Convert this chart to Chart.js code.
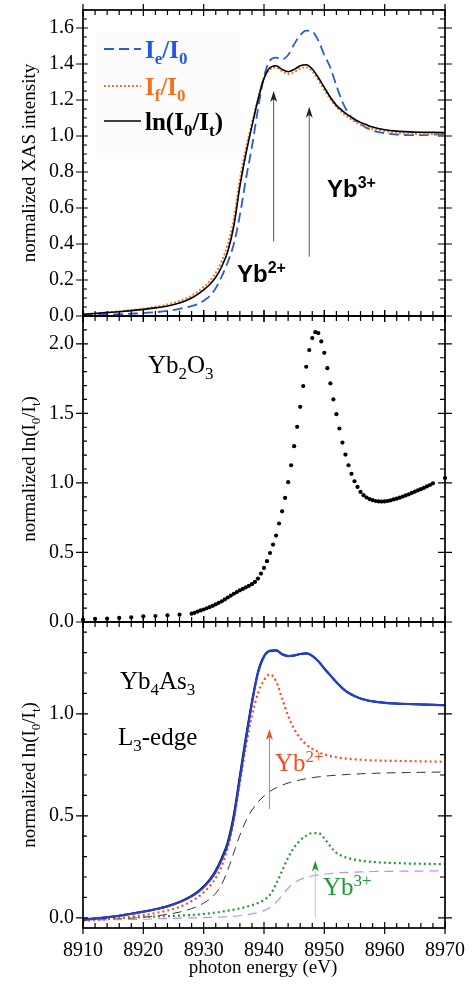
<!DOCTYPE html>
<html>
<head>
<meta charset="utf-8">
<script src="https://cdn.jsdelivr.net/npm/chart.js@4.4.1/dist/chart.umd.min.js"></script>
<style>
  body { margin: 0; background: #fff; }
  #wrap { position: relative; width: 473px; height: 990px; }
  canvas { position: absolute; left: 0; top: 0; }
</style>
</head>
<body>
<div id="wrap">
  <canvas id="c1" width="473" height="990"></canvas>
  <canvas id="c2" width="473" height="990"></canvas>
  <canvas id="c3" width="473" height="990"></canvas>
</div>
<script>
// ---- data ----
const X_TICKS = [8910, 8920, 8930, 8940, 8950, 8960, 8970];
const P1_YTICKS = [0, 0.2, 0.4, 0.6, 0.8, 1.0, 1.2, 1.4, 1.6];
const P2_YTICKS = [0, 0.5, 1.0, 1.5, 2.0];
const P3_YTICKS = [0, 0.5, 1.0];

// top panel: Yb4As3 XAS, three detection modes
const E1 = [8910, 8912, 8914, 8916, 8918, 8920, 8922, 8924, 8926, 8928, 8929, 8930, 8931, 8932, 8933, 8934,
  8935, 8936, 8937, 8938, 8939, 8940, 8941, 8942, 8943, 8944, 8945, 8946, 8947, 8948, 8949, 8950, 8951,
  8952, 8953, 8954, 8955, 8956, 8957, 8958, 8960, 8962, 8964, 8966, 8968, 8970];
const IE_I0 = [0.005, 0.006, 0.008, 0.010, 0.013, 0.016, 0.021, 0.028, 0.040, 0.055, 0.066, 0.085, 0.110, 0.155, 0.220, 0.300,
  0.400, 0.560, 0.760, 0.940, 1.150, 1.330, 1.420, 1.435, 1.425, 1.450, 1.510, 1.560, 1.585, 1.580, 1.530, 1.450, 1.380,
  1.280, 1.190, 1.125, 1.090, 1.065, 1.045, 1.030, 1.015, 1.008, 1.005, 1.005, 1.007, 1.010];
const IF_I0 = [0.010, 0.015, 0.020, 0.026, 0.033, 0.041, 0.051, 0.064, 0.083, 0.113, 0.135, 0.162, 0.195, 0.240, 0.305, 0.400,
  0.540, 0.760, 0.930, 1.070, 1.210, 1.320, 1.370, 1.380, 1.360, 1.345, 1.355, 1.375, 1.382, 1.358, 1.312, 1.255, 1.205,
  1.162, 1.128, 1.103, 1.080, 1.062, 1.050, 1.040, 1.027, 1.018, 1.013, 1.011, 1.010, 1.010];
const LN_I0_IT = [0.010, 0.014, 0.019, 0.024, 0.030, 0.037, 0.045, 0.056, 0.072, 0.100, 0.120, 0.145, 0.175, 0.215, 0.275, 0.360,
  0.500, 0.720, 0.900, 1.055, 1.200, 1.320, 1.380, 1.390, 1.370, 1.357, 1.370, 1.390, 1.396, 1.372, 1.325, 1.270, 1.215,
  1.170, 1.140, 1.115, 1.093, 1.075, 1.062, 1.050, 1.035, 1.027, 1.023, 1.021, 1.020, 1.019];

// middle panel: Yb2O3 reference
const E_YB2O3 = [8910, 8912, 8914, 8916, 8918, 8920, 8922, 8924, 8926, 8928,
  8928.5, 8929, 8929.5, 8930, 8930.5, 8931, 8931.5, 8932, 8932.5, 8933, 8933.5, 8934, 8934.5, 8935, 8935.5,
  8936, 8936.5, 8937, 8937.5, 8938, 8938.5,
  8939, 8939.5, 8940, 8940.5, 8941, 8941.5, 8942, 8942.5, 8943, 8943.5, 8944, 8944.5, 8945, 8945.5, 8946, 8946.5,
  8947, 8947.5, 8948, 8948.5, 8949, 8949.5, 8950, 8950.5, 8951, 8951.5, 8952, 8952.5, 8953, 8953.5, 8954, 8954.5,
  8955, 8955.5, 8956,
  8956.5, 8957, 8957.5, 8958, 8958.5, 8959, 8959.5, 8960, 8960.5, 8961, 8961.5, 8962, 8962.5, 8963, 8963.5, 8964,
  8964.5, 8965, 8965.5, 8966, 8966.5, 8967, 8967.5, 8968, 8970];
const I_YB2O3 = [0.017, 0.022, 0.024, 0.029, 0.034, 0.041, 0.043, 0.048, 0.053, 0.060,
  0.066, 0.075, 0.083, 0.090, 0.099, 0.107, 0.116, 0.127, 0.138, 0.149, 0.162, 0.176, 0.190, 0.203, 0.215,
  0.228, 0.238, 0.249, 0.260, 0.272, 0.288,
  0.312, 0.348, 0.389, 0.437, 0.496, 0.557, 0.621, 0.708, 0.796, 0.892, 1.005, 1.127, 1.264, 1.403, 1.547, 1.696,
  1.835, 1.955, 2.041, 2.084, 2.077, 2.017, 1.935, 1.825, 1.715, 1.600, 1.494, 1.391, 1.290, 1.204, 1.127, 1.065,
  1.012, 0.971, 0.935,
  0.912, 0.895, 0.884, 0.876, 0.870, 0.867, 0.866, 0.867, 0.870, 0.875, 0.881, 0.887, 0.894, 0.902, 0.910, 0.918,
  0.928, 0.937, 0.946, 0.955, 0.964, 0.975, 0.985, 0.997, 1.035];

// bottom panel: Yb4As3 L3-edge and its decomposition
const E3 = [8910, 8912, 8914, 8916, 8918, 8920, 8922, 8924, 8926, 8928, 8929, 8930, 8931, 8932, 8933, 8934,
  8935, 8936, 8937, 8938, 8939, 8940, 8941, 8942, 8943, 8944, 8945, 8946, 8947, 8948, 8949, 8950, 8951,
  8952, 8953, 8954, 8955, 8956, 8957, 8958, 8960, 8962, 8964, 8966, 8968, 8970];
const YB4AS3_DATA = [-0.008, -0.004, 0.003, 0.010, 0.020, 0.030, 0.042, 0.056, 0.076, 0.105, 0.125, 0.150, 0.182, 0.225, 0.285, 0.360,
  0.490, 0.680, 0.870, 1.050, 1.200, 1.280, 1.310, 1.312, 1.293, 1.283, 1.286, 1.293, 1.297, 1.284, 1.258, 1.222, 1.188,
  1.155, 1.125, 1.103, 1.087, 1.075, 1.067, 1.061, 1.054, 1.050, 1.048, 1.046, 1.044, 1.042];
const YB4AS3_FIT = [-0.008, -0.004, 0.003, 0.010, 0.020, 0.030, 0.042, 0.057, 0.078, 0.108, 0.128, 0.154, 0.187, 0.232, 0.293, 0.372,
  0.505, 0.695, 0.885, 1.060, 1.205, 1.282, 1.308, 1.310, 1.292, 1.283, 1.286, 1.293, 1.296, 1.284, 1.258, 1.222, 1.188,
  1.155, 1.125, 1.103, 1.087, 1.075, 1.067, 1.061, 1.054, 1.050, 1.048, 1.046, 1.044, 1.042];
const YB2_PEAK = [-0.015, -0.011, -0.007, -0.002, 0.005, 0.013, 0.023, 0.036, 0.053, 0.082, 0.100, 0.125, 0.155, 0.195, 0.255, 0.345,
  0.480, 0.660, 0.840, 0.990, 1.100, 1.165, 1.193, 1.160, 1.075, 0.990, 0.925, 0.880, 0.850, 0.828, 0.813, 0.801, 0.793,
  0.787, 0.783, 0.779, 0.777, 0.775, 0.773, 0.772, 0.770, 0.769, 0.768, 0.767, 0.766, 0.765];
const YB2_EDGE = [-0.010, -0.009, -0.007, -0.005, -0.002, 0.003, 0.009, 0.017, 0.028, 0.045, 0.057, 0.072, 0.092, 0.120, 0.165, 0.235,
  0.320, 0.405, 0.475, 0.528, 0.567, 0.597, 0.620, 0.637, 0.650, 0.661, 0.669, 0.676, 0.682, 0.687, 0.691, 0.694, 0.697,
  0.699, 0.701, 0.703, 0.704, 0.706, 0.707, 0.708, 0.710, 0.711, 0.712, 0.713, 0.714, 0.715];
const YB3_PEAK = [-0.006, -0.004, -0.002, 0.000, 0.002, 0.004, 0.006, 0.008, 0.011, 0.014, 0.016, 0.019, 0.022, 0.026, 0.030, 0.035,
  0.040, 0.046, 0.053, 0.062, 0.073, 0.088, 0.112, 0.165, 0.230, 0.295, 0.345, 0.380, 0.403, 0.415, 0.415, 0.390, 0.350,
  0.318, 0.302, 0.292, 0.285, 0.280, 0.277, 0.274, 0.270, 0.268, 0.266, 0.265, 0.264, 0.263];
const YB3_EDGE = [-0.012, -0.011, -0.010, -0.009, -0.008, -0.007, -0.005, -0.004, -0.002, 0.000, 0.000, 0.001, 0.002, 0.003, 0.004, 0.005,
  0.007, 0.010, 0.014, 0.019, 0.026, 0.035, 0.050, 0.075, 0.110, 0.145, 0.172, 0.188, 0.198, 0.205, 0.210, 0.214, 0.217,
  0.220, 0.222, 0.223, 0.224, 0.225, 0.226, 0.227, 0.228, 0.228, 0.229, 0.229, 0.230, 0.230];

// valence arrows: energy, from, to
const P1_ARROW_E = [8941.6, 8947.5];
const P1_ARROW_FROM = [0.414, 0.33];
const P1_ARROW_TO = [1.25, 1.163];
const P3_ARROW_E = [8940.9, 8948.5];
const P3_ARROW_FROM = [0.533, 0.0];
const P3_ARROW_TO = [0.925, 0.281];

// ---- helpers ----
const SERIF = "'Liberation Serif', 'Times New Roman', serif";
const SANS = "'Liberation Sans', Arial, sans-serif";

const pts = (xs, ys) => xs.map((x, i) => ({ x: x, y: ys[i] }));

function steps(a, b, s) {
  const out = [];
  for (let v = a; v <= b + 1e-9; v += s) out.push(Math.round(v * 1000) / 1000);
  return out;
}

// parts: [text, kind] with kind 0 normal, 1 subscript, 2 superscript
function rich(ctx, parts, x, y, size, family, weight, color, align) {
  const fontOf = k => `${weight} ${k ? Math.round(size * 0.68) : size}px ${family}`;
  const widths = parts.map(([t, k]) => { ctx.font = fontOf(k); return ctx.measureText(t).width; });
  let cx = x;
  if (align === 'center') cx -= widths.reduce((s, w) => s + w, 0) / 2;
  ctx.fillStyle = color;
  ctx.textBaseline = 'alphabetic';
  ctx.textAlign = 'left';
  parts.forEach(([t, k], i) => {
    ctx.font = fontOf(k);
    const dy = k === 1 ? size * 0.24 : k === 2 ? -size * 0.38 : 0;
    ctx.fillText(t, cx, y + dy);
    cx += widths[i];
  });
}

function vtitle(ctx, parts, x, yc) {
  ctx.save();
  ctx.translate(x, yc);
  ctx.rotate(-Math.PI / 2);
  rich(ctx, parts, 0, 0, 19, SERIF, 'normal', '#000', 'center');
  ctx.restore();
}

function arrow(ctx, x, y0, y1, lineColor, headColor) {
  ctx.save();
  ctx.strokeStyle = lineColor;
  ctx.lineWidth = 1;
  ctx.beginPath();
  ctx.moveTo(x, y0);
  ctx.lineTo(x, y1 + 6);
  ctx.stroke();
  ctx.fillStyle = headColor;
  ctx.beginPath();
  ctx.moveTo(x, y1);
  ctx.lineTo(x - 3.5, y1 + 11);
  ctx.lineTo(x, y1 + 8);
  ctx.lineTo(x + 3.5, y1 + 11);
  ctx.closePath();
  ctx.fill();
  ctx.restore();
}

function frame(yMajor, yMinor) {
  return {
    id: 'frame',
    afterDatasetsDraw(chart) {
      const { ctx, chartArea: a, scales: { x, y } } = chart;
      ctx.save();
      ctx.strokeStyle = '#000';
      ctx.lineWidth = 1.2;
      ctx.beginPath();
      steps(8910, 8970, 2).forEach(v => {
        const px = x.getPixelForValue(v);
        ctx.moveTo(px, a.top); ctx.lineTo(px, a.top + 5);
        ctx.moveTo(px, a.bottom); ctx.lineTo(px, a.bottom - 5);
      });
      X_TICKS.forEach(v => {
        const px = x.getPixelForValue(v);
        ctx.moveTo(px, a.top - 6); ctx.lineTo(px, a.top + 6);
        ctx.moveTo(px, a.bottom - 6); ctx.lineTo(px, a.bottom + 6);
      });
      yMinor.forEach(v => {
        const py = y.getPixelForValue(v);
        ctx.moveTo(a.left, py); ctx.lineTo(a.left + 4, py);
        ctx.moveTo(a.right, py); ctx.lineTo(a.right - 5, py);
      });
      yMajor.forEach(v => {
        const py = y.getPixelForValue(v);
        ctx.moveTo(a.left - 7, py); ctx.lineTo(a.left + 5, py);
        ctx.moveTo(a.right - 7, py); ctx.lineTo(a.right + 7, py);
      });
      ctx.stroke();
      ctx.lineWidth = 1.7;
      ctx.strokeRect(a.left, a.top, a.right - a.left, a.bottom - a.top);
      ctx.restore();
    }
  };
}

function yScale(min, max, ticks) {
  return {
    type: 'linear', min: min, max: max,
    afterBuildTicks: s => { s.ticks = ticks.map(v => ({ value: v })); },
    afterFit: s => { s.width = 60; s.paddingTop = 0; s.paddingBottom = 0; },
    grid: { display: false, drawTicks: false },
    border: { display: false },
    ticks: { padding: 9, color: '#000', font: { family: SERIF, size: 20 }, callback: v => v.toFixed(1), autoSkip: false }
  };
}

function xScale(show) {
  return {
    type: 'linear', min: 8910, max: 8970, display: show,
    afterBuildTicks: s => { s.ticks = X_TICKS.map(v => ({ value: v })); },
    afterFit: s => { if (show) { s.height = 50; s.paddingLeft = 0; s.paddingRight = 0; } },
    grid: { display: false, drawTicks: false },
    border: { display: false },
    ticks: { padding: 11, color: '#000', font: { family: SERIF, size: 20 }, callback: v => String(v), autoSkip: false, maxRotation: 0 }
  };
}

function baseOptions(pad, yMin, yMax, yTicks, showX) {
  return {
    responsive: false,
    animation: false,
    devicePixelRatio: 1,
    events: [],
    layout: { padding: pad },
    elements: { point: { radius: 0 }, line: { cubicInterpolationMode: 'monotone' } },
    plugins: { legend: { display: false }, tooltip: { enabled: false } },
    scales: { x: xScale(showX), y: yScale(yMin, yMax, yTicks) }
  };
}

// ---- top panel ---- (first dataset is drawn on top)
new Chart(document.getElementById('c1'), {
  type: 'line',
  data: {
    datasets: [
      { data: pts(E1, LN_I0_IT), borderColor: '#000', borderWidth: 1.6 },
      { data: pts(E1, IF_I0), borderColor: '#ef7b30', borderWidth: 2, borderDash: [2, 2] },
      { data: pts(E1, IE_I0), borderColor: '#2a5bd7', borderWidth: 1.8, borderDash: [10, 5] }
    ]
  },
  options: baseOptions({ left: 23, right: 28, top: 10, bottom: 674 }, 0, 1.7, P1_YTICKS, false),
  plugins: [
    {
      id: 'legendBox',
      beforeDatasetsDraw(chart) {
        const ctx = chart.ctx;
        ctx.save();
        ctx.fillStyle = '#fbfbfb';
        ctx.fillRect(96, 33, 144, 120);
        ctx.restore();
      }
    },
    frame(P1_YTICKS, steps(0, 1.7, 0.05)),
    {
      id: 'notes1',
      afterDraw(chart) {
        const { ctx, scales: { x, y } } = chart;
        const rows = [
          { dash: [10, 5], color: '#2a5bd7', w: 1.8, ly: 49, ty: 58, txt: '#2358e0',
            parts: [['I', 0], ['e', 1], ['/I', 0], ['0', 1]] },
          { dash: [2, 2], color: '#ef7b30', w: 2, ly: 86, ty: 95, txt: '#ee7020',
            parts: [['I', 0], ['f', 1], ['/I', 0], ['0', 1]] },
          { dash: [], color: '#000', w: 1.6, ly: 121, ty: 130, txt: '#000',
            parts: [['ln(I', 0], ['0', 1], ['/I', 0], ['t', 1], [')', 0]] }
        ];
        rows.forEach(r => {
          ctx.save();
          ctx.strokeStyle = r.color;
          ctx.lineWidth = r.w;
          ctx.setLineDash(r.dash);
          ctx.beginPath();
          ctx.moveTo(104, r.ly);
          ctx.lineTo(141, r.ly);
          ctx.stroke();
          ctx.restore();
          rich(ctx, r.parts, 145, r.ty, 25, SERIF, 'bold', r.txt);
        });
        P1_ARROW_E.forEach((e, i) => {
          arrow(ctx, x.getPixelForValue(e), y.getPixelForValue(P1_ARROW_FROM[i]),
            y.getPixelForValue(P1_ARROW_TO[i]), '#555', '#222');
        });
        rich(ctx, [['Yb', 0], ['2+', 2]], 237, 282, 24, SANS, 'bold', '#000');
        rich(ctx, [['Yb', 0], ['3+', 2]], 327, 197, 24, SANS, 'bold', '#000');
        vtitle(ctx, [['normalized XAS intensity', 0]], 35, (chart.chartArea.top + chart.chartArea.bottom) / 2);
      }
    }
  ]
});

// ---- middle panel ----
new Chart(document.getElementById('c2'), {
  type: 'line',
  data: {
    datasets: [
      { data: pts(E_YB2O3, I_YB2O3), showLine: false, pointRadius: 2.1, pointBackgroundColor: '#000',
        pointBorderWidth: 0, clip: false }
    ]
  },
  options: baseOptions({ left: 23, right: 28, top: 316, bottom: 368 }, 0, 2.2, P2_YTICKS, false),
  plugins: [
    frame(P2_YTICKS, steps(0, 2.2, 0.1)),
    {
      id: 'notes2',
      afterDraw(chart) {
        const ctx = chart.ctx;
        rich(ctx, [['Yb', 0], ['2', 1], ['O', 0], ['3', 1]], 148, 373, 25, SERIF, 'normal', '#000');
        vtitle(ctx, [['normalized ln(I', 0], ['0', 1], ['/I', 0], ['t', 1], [')', 0]], 35,
          (chart.chartArea.top + chart.chartArea.bottom) / 2);
      }
    }
  ]
});

// ---- bottom panel ----
new Chart(document.getElementById('c3'), {
  type: 'line',
  data: {
    datasets: [
      { data: pts(E3, YB4AS3_DATA), borderColor: '#2040d8', borderWidth: 2.2 },
      { data: pts(E3, YB4AS3_FIT), borderColor: '#000', borderWidth: 2 },
      { data: pts(E3, YB2_PEAK), borderColor: '#ff4a1a', borderWidth: 2.2, borderDash: [2, 3] },
      { data: pts(E3, YB3_PEAK), borderColor: '#1e9a34', borderWidth: 2.2, borderDash: [2, 3] },
      { data: pts(E3, YB3_EDGE), borderColor: '#cc8ae8', borderWidth: 1.2, borderDash: [9, 6] },
      { data: pts(E3, YB2_EDGE), borderColor: '#333', borderWidth: 1, borderDash: [9, 6] }
    ]
  },
  options: baseOptions({ left: 23, right: 28, top: 622, bottom: 12 }, -0.05, 1.45, P3_YTICKS, true),
  plugins: [
    frame(P3_YTICKS, steps(0, 1.4, 0.1)),
    {
      id: 'notes3',
      afterDraw(chart) {
        const { ctx, scales: { x, y } } = chart;
        arrow(ctx, x.getPixelForValue(P3_ARROW_E[0]), y.getPixelForValue(P3_ARROW_FROM[0]),
          y.getPixelForValue(P3_ARROW_TO[0]), '#ff6a40', '#ff4a1a');
        arrow(ctx, x.getPixelForValue(P3_ARROW_E[1]), y.getPixelForValue(P3_ARROW_FROM[1]),
          y.getPixelForValue(P3_ARROW_TO[1]), '#a8d8b0', '#1e9a34');
        rich(ctx, [['Yb', 0], ['4', 1], ['As', 0], ['3', 1]], 120, 689, 25, SERIF, 'normal', '#000');
        rich(ctx, [['L', 0], ['3', 1], ['-edge', 0]], 118, 745, 25, SERIF, 'normal', '#000');
        rich(ctx, [['Yb', 0], ['2+', 2]], 275, 771, 25, SERIF, 'normal', '#ff4a1a');
        rich(ctx, [['Yb', 0], ['3+', 2]], 323, 895, 25, SERIF, 'normal', '#1e9a34');
        vtitle(ctx, [['normalized ln(I', 0], ['0', 1], ['/I', 0], ['t', 1], [')', 0]], 35,
          (chart.chartArea.top + chart.chartArea.bottom) / 2);
        rich(ctx, [['photon energy (eV)', 0]], 263, 973, 19, SERIF, 'normal', '#000', 'center');
      }
    }
  ]
});
</script>
</body>
</html>
